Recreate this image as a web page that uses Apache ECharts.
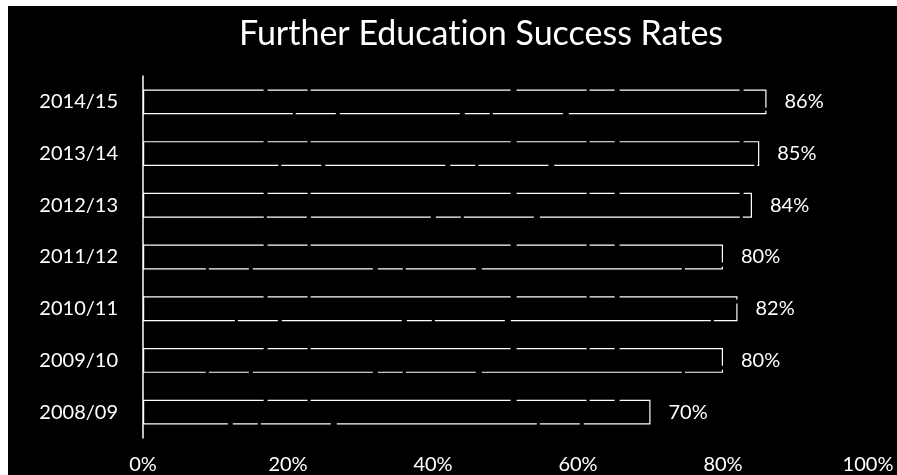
<!DOCTYPE html>
<html>
<head>
<meta charset="utf-8">
<script src="https://cdn.jsdelivr.net/npm/echarts@6/dist/echarts.min.js"></script>
<style>
  html, body { margin: 0; padding: 0; background: #ffffff; }
  #chart { width: 897px; height: 475px; }
</style>
</head>
<body>
<div id="chart"></div>
<script>
// Academic years, bottom to top
const years = ['2008/09', '2009/10', '2010/11', '2011/12', '2012/13', '2013/14', '2014/15'];
// Success rate per year, percent
const successRates = [70, 80, 82, 80, 84, 85, 86];
// Value axis range and step, percent
const axisMin = 0;
const axisMax = 100;
const axisStep = 20;

const FONT = 'Lato, "DejaVu Sans", sans-serif';

const chart = echarts.init(document.getElementById('chart'), null, { renderer: 'canvas' });

chart.setOption({
  backgroundColor: '#ffffff',
  animation: false,
  graphic: [
    {
      type: 'rect',
      z: -10,
      silent: true,
      shape: { x: 8, y: 6, width: 889, height: 469 },
      style: { fill: '#000000' }
    }
  ],
  title: {
    // zero-width non-joiner keeps "t" and "i" as separate glyphs
    text: 'Further Educat\u200Cion Success Rates',
    left: 476,
    textAlign: 'center',
    top: 12,
    textStyle: { color: '#ffffff', fontFamily: FONT, fontSize: 34, fontWeight: 'normal' }
  },
  grid: { left: 143, right: 29, top: 76, bottom: 37, containLabel: false },
  xAxis: {
    type: 'value',
    min: axisMin,
    max: axisMax,
    interval: axisStep,
    axisLine: { show: false },
    axisTick: { show: false },
    splitLine: { show: false },
    axisLabel: {
      color: '#ffffff',
      fontFamily: FONT,
      fontSize: 20,
      margin: 17,
      formatter: '{value}%'
    }
  },
  yAxis: {
    type: 'category',
    data: years,
    axisLine: { show: true, lineStyle: { color: '#ffffff', width: 1.5 } },
    axisTick: { show: false },
    splitLine: { show: false },
    axisLabel: {
      color: '#ffffff',
      fontFamily: FONT,
      fontSize: 20,
      margin: 25
    }
  },
  series: [
    {
      type: 'bar',
      data: successRates,
      barWidth: '48%',
      itemStyle: {
        color: '#000000',
        borderColor: '#ffffff',
        borderWidth: 1.2,
        borderType: [120, 4, 40, 3, 200, 6, 70, 3, 25, 5]
      },
      label: {
        show: true,
        position: 'right',
        distance: 18,
        color: '#ffffff',
        fontFamily: FONT,
        fontSize: 20,
        formatter: '{c}%'
      }
    }
  ]
});
</script>
</body>
</html>
